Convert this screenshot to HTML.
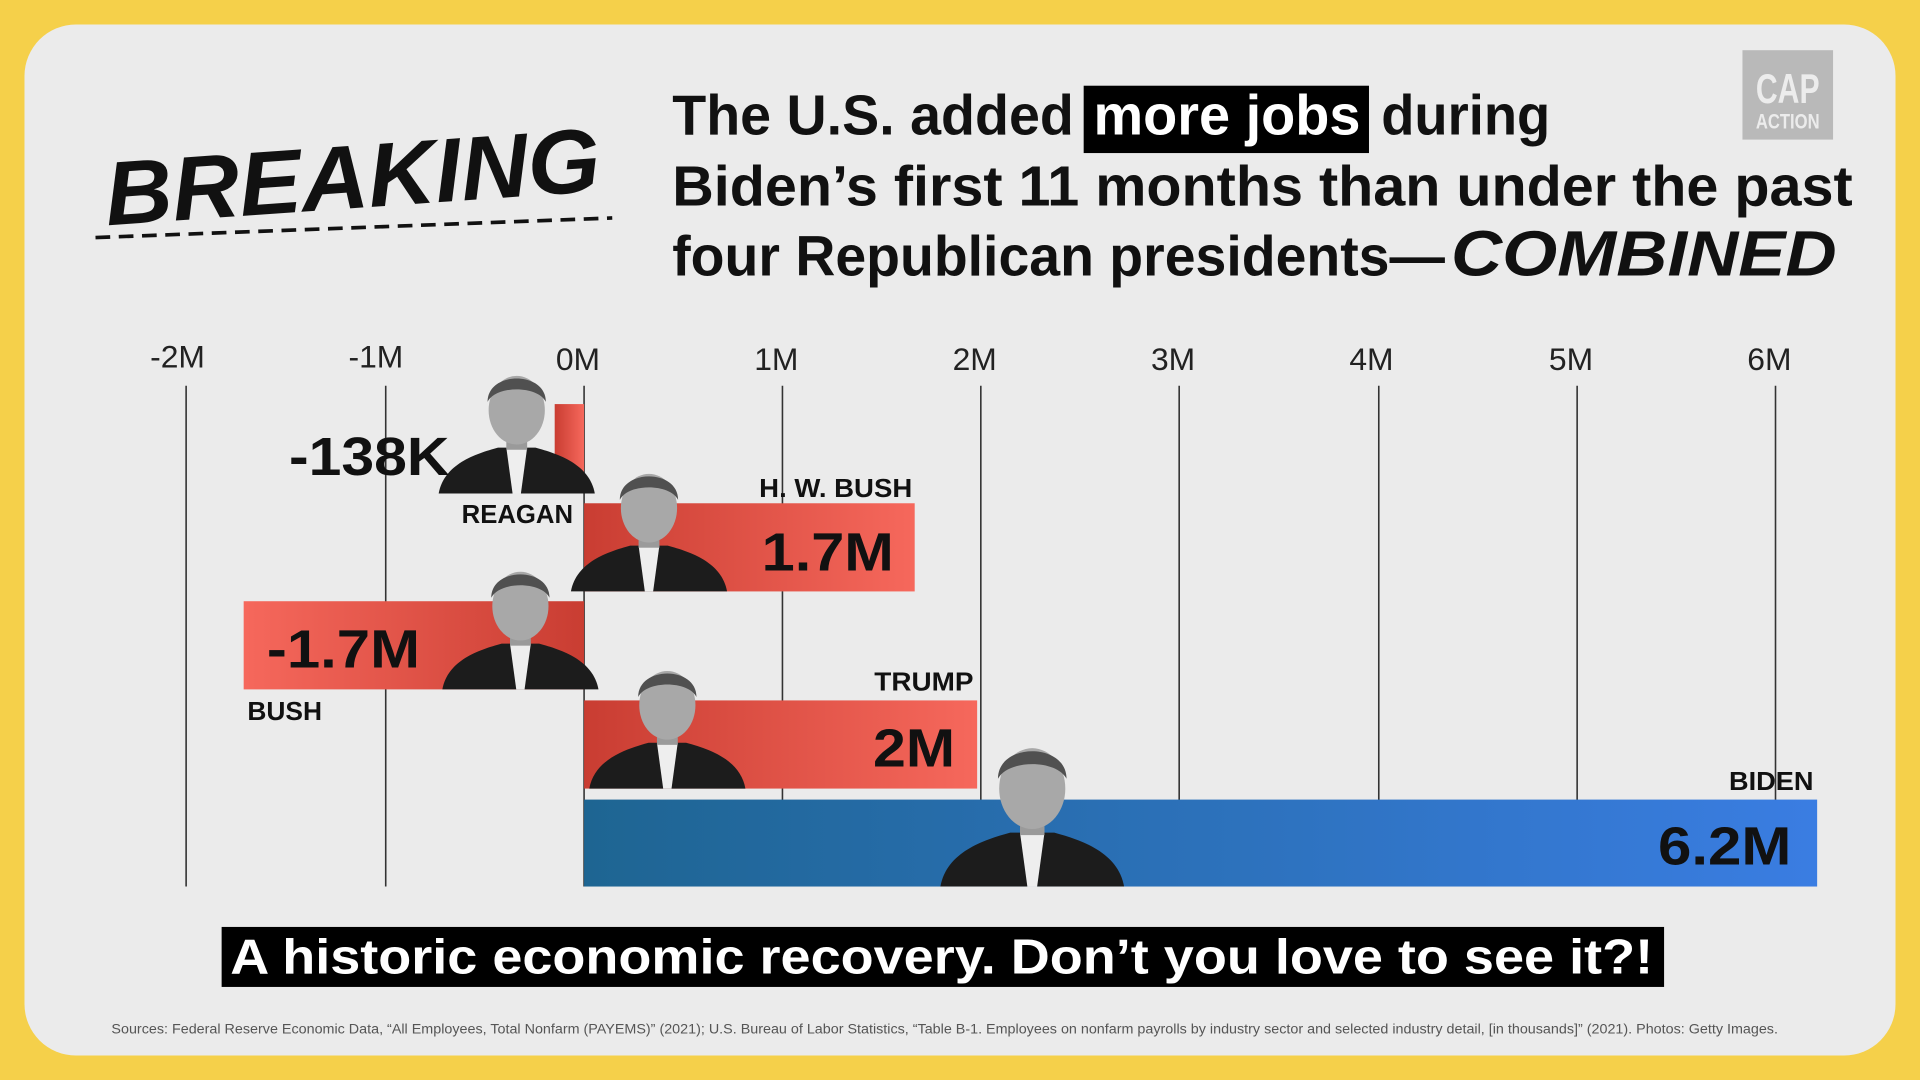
<!DOCTYPE html>
<html><head><meta charset="utf-8"><style>
html,body{margin:0;padding:0;width:1920px;height:1080px;overflow:hidden;background:#f5d04a}
svg{display:block}
text{font-family:"Liberation Sans",sans-serif}
</style></head><body>
<svg width="1920" height="1080" viewBox="0 0 1568 882" preserveAspectRatio="none" xmlns="http://www.w3.org/2000/svg">
<defs>
<linearGradient id="rr" x1="0" x2="1"><stop offset="0" stop-color="#c93d32"/><stop offset="1" stop-color="#f6685c"/></linearGradient>
<linearGradient id="rl" x1="0" x2="1"><stop offset="0" stop-color="#f6685c"/><stop offset="1" stop-color="#c93d32"/></linearGradient>
<linearGradient id="bl" x1="0" x2="1"><stop offset="0" stop-color="#1e6592"/><stop offset="1" stop-color="#3a7de2"/></linearGradient>
<g id="person">
<path d="M-75,0 C-70,-28 -40,-38 -18,-44 L18,-44 C40,-38 70,-28 75,0 Z" fill="#1c1c1c"/>
<path d="M-10,-44 L10,-44 L4,0 L-4,0 Z" fill="#eee"/>
<rect x="-10" y="-62" width="20" height="20" fill="#9a9a9a"/>
<ellipse cx="0" cy="-80" rx="27" ry="33" fill="#a8a8a8"/>
<path d="M-28,-88 C-28,-118 28,-118 28,-88 C20,-104 -20,-104 -28,-88Z" fill="#505050"/>
</g>
</defs>
<rect x="0" y="0" width="1568" height="882" fill="#f5d04a"/>
<rect x="20" y="20" width="1528" height="842" rx="42" fill="#ebebeb"/>

<g transform="rotate(-4 287 140)">
<text x="85" y="170" font-size="74" font-weight="bold" font-style="italic" textLength="405" lengthAdjust="spacingAndGlyphs" fill="#111">BREAKING</text>
</g>
<line x1="78" y1="194" x2="500" y2="178" stroke="#111" stroke-width="3" stroke-dasharray="12,7"/>

<text x="549" y="110" font-size="46" font-weight="bold" textLength="328" lengthAdjust="spacingAndGlyphs" fill="#111">The U.S. added</text>
<rect x="885" y="70" width="233" height="55" fill="#000"/>
<text x="893" y="110" font-size="46" font-weight="bold" textLength="218" lengthAdjust="spacingAndGlyphs" fill="#fff">more jobs</text>
<text x="1128" y="110" font-size="46" font-weight="bold" textLength="138" lengthAdjust="spacingAndGlyphs" fill="#111">during</text>
<text x="549" y="168" font-size="46" font-weight="bold" textLength="964" lengthAdjust="spacingAndGlyphs" fill="#111">Biden’s first 11 months than under the past</text>
<text x="549" y="225" font-size="46" font-weight="bold" textLength="631" lengthAdjust="spacingAndGlyphs" fill="#111">four Republican presidents—</text>
<text x="1185" y="225" font-size="52" font-weight="bold" font-style="italic" textLength="315" lengthAdjust="spacingAndGlyphs" fill="#111">COMBINED</text>

<rect x="1423" y="41" width="74" height="73" fill="#b9b9b9"/>
<text x="1460" y="84" font-size="34" font-weight="bold" text-anchor="middle" textLength="52" lengthAdjust="spacingAndGlyphs" fill="#ececec">CAP</text>
<text x="1460" y="105" font-size="17" font-weight="bold" text-anchor="middle" textLength="52" lengthAdjust="spacingAndGlyphs" fill="#ececec">ACTION</text>

<g stroke="#333" stroke-width="1.3">
<line x1="152" y1="315" x2="152" y2="724"/><line x1="315" y1="315" x2="315" y2="724"/>
<line x1="477" y1="315" x2="477" y2="724"/><line x1="639" y1="315" x2="639" y2="724"/>
<line x1="801" y1="315" x2="801" y2="724"/><line x1="963" y1="315" x2="963" y2="724"/>
<line x1="1126" y1="315" x2="1126" y2="724"/><line x1="1288" y1="315" x2="1288" y2="724"/>
<line x1="1450" y1="315" x2="1450" y2="724"/>
</g>
<g font-size="26" fill="#222" text-anchor="middle">
<text x="145" y="300">-2M</text><text x="307" y="300">-1M</text><text x="472" y="302">0M</text>
<text x="634" y="302">1M</text><text x="796" y="302">2M</text><text x="958" y="302">3M</text>
<text x="1120" y="302">4M</text><text x="1283" y="302">5M</text><text x="1445" y="302">6M</text>
</g>

<rect x="453" y="330" width="24" height="70" fill="url(#rr)"/>
<rect x="477" y="411" width="270" height="72" fill="url(#rr)"/>
<rect x="199" y="491" width="278" height="72" fill="url(#rl)"/>
<rect x="477" y="572" width="321" height="72" fill="url(#rr)"/>
<rect x="477" y="653" width="1007" height="71" fill="url(#bl)"/>

<use href="#person" transform="translate(422,403) scale(0.85)"/>
<use href="#person" transform="translate(530,483) scale(0.85)"/>
<use href="#person" transform="translate(425,563) scale(0.85)"/>
<use href="#person" transform="translate(545,644) scale(0.85)"/>
<use href="#person" transform="translate(843,724) scale(1)"/>

<g font-size="44" fill="#111" font-weight="bold">
<text x="236" y="388" textLength="131" lengthAdjust="spacingAndGlyphs">-138K</text>
<text x="622" y="466" textLength="108" lengthAdjust="spacingAndGlyphs">1.7M</text>
<text x="218" y="545" textLength="125" lengthAdjust="spacingAndGlyphs">-1.7M</text>
<text x="713" y="626" textLength="67" lengthAdjust="spacingAndGlyphs">2M</text>
<text x="1354" y="706" textLength="109" lengthAdjust="spacingAndGlyphs">6.2M</text>
</g>
<g font-size="21" fill="#111" font-weight="bold">
<text x="377" y="427" textLength="91" lengthAdjust="spacingAndGlyphs">REAGAN</text>
<text x="620" y="406" textLength="125" lengthAdjust="spacingAndGlyphs">H. W. BUSH</text>
<text x="202" y="588" textLength="61" lengthAdjust="spacingAndGlyphs">BUSH</text>
<text x="714" y="564" textLength="81" lengthAdjust="spacingAndGlyphs">TRUMP</text>
<text x="1412" y="645" textLength="69" lengthAdjust="spacingAndGlyphs">BIDEN</text>
</g>

<rect x="181" y="757" width="1178" height="49" fill="#000"/>
<text x="188" y="795" font-size="40" font-weight="bold" fill="#fff" textLength="1162" lengthAdjust="spacingAndGlyphs">A historic economic recovery. Don’t you love to see it?!</text>

<text x="91" y="844" font-size="11" fill="#555" textLength="1361" lengthAdjust="spacingAndGlyphs">Sources: Federal Reserve Economic Data, “All Employees, Total Nonfarm (PAYEMS)” (2021); U.S. Bureau of Labor Statistics, “Table B-1. Employees on nonfarm payrolls by industry sector and selected industry detail, [in thousands]” (2021). Photos: Getty Images.</text>
</svg>
</body></html>
